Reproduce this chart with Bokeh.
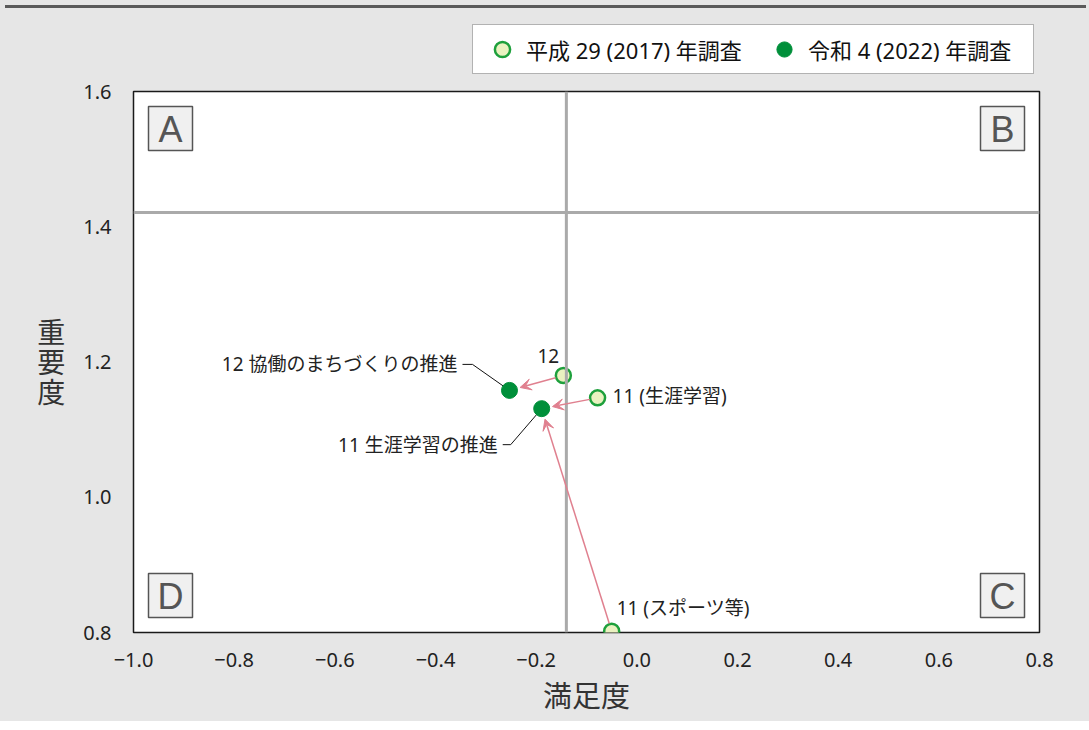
import math
from bokeh.plotting import figure
from bokeh.models import (Range1d, FixedTicker, Span, Label, Arrow, VeeHead,
                          Legend, LegendItem, Div)
from bokeh.layouts import column
from bokeh.embed import file_html
from bokeh.resources import INLINE
from bokeh.core.properties import value

# ---------------- data ----------------
labels_2017 = ["12", "11 (生涯学習)", "11 (スポーツ等)"]
sat_2017 = [-0.146, -0.078, -0.050]
imp_2017 = [1.180, 1.147, 0.802]

labels_2022 = ["12 協働のまちづくりの推進", "11 生涯学習の推進"]
sat_2022 = [-0.253, -0.189]
imp_2022 = [1.158, 1.131]

# arrows: index in 2017 -> index in 2022
moves_from = [0, 1, 2]
moves_to = [0, 1, 1]

avg_sat = -0.140
avg_imp = 1.421

x_ticks = [-1.0, -0.8, -0.6, -0.4, -0.2, 0.0, 0.2, 0.4, 0.6, 0.8]
y_ticks = [0.8, 1.0, 1.2, 1.4, 1.6]
quadrant_names = ["A", "B", "C", "D"]
legend_names = ["平成 29 (2017) 年調査", "令和 4 (2022) 年調査"]

# ---------------- layout ----------------
FONT = "Noto Sans, Noto Sans CJK JP"
W = 1081
LH = 62
H = 646
ML, MR, MT, MB = 133, 42, 16, 89
XMIN, XMAX, YMIN, YMAX = -1.0, 0.8, 0.8, 1.6
FW, FH = W - ML - MR, H - MT - MB
SX = FW / (XMAX - XMIN)
SY = FH / (YMAX - YMIN)

BG = "#e6e6e6"
PINK = "#e0808f"
OLD_FILL = "#eaf2c0"
OLD_LINE = "#1ea03c"
NEW_FILL = "#008f3a"

p = figure(width=W, height=H, x_range=Range1d(XMIN, XMAX), y_range=Range1d(YMIN, YMAX),
           output_backend="svg", toolbar_location=None,
           min_border_left=ML, min_border_right=MR, min_border_top=MT, min_border_bottom=MB)
p.background_fill_color = "white"
p.border_fill_color = BG
p.outline_line_color = "#1a1a1a"
p.outline_line_width = 1.5
p.xgrid.visible = False
p.ygrid.visible = False
p.title.visible = False

def minus(v):
    return f"{v:.1f}".replace("-", "\u2212")

for ax, ticks in ((p.xaxis, x_ticks), (p.yaxis, y_ticks)):
    ax.ticker = FixedTicker(ticks=ticks)
    ax.major_label_overrides = {t: minus(t) for t in ticks}
    ax.major_tick_line_color = None
    ax.minor_tick_line_color = None
    ax.axis_line_color = None
    ax.major_label_text_font = FONT
    ax.major_label_text_font_size = "20px"
    ax.major_label_text_color = "#222222"
p.xaxis.major_label_standoff = 14
p.yaxis.major_label_standoff = 16
p.xaxis.axis_label = "満足度"
p.xaxis.axis_label_text_font = FONT
p.xaxis.axis_label_text_font_size = "29px"
p.xaxis.axis_label_text_font_style = "normal"
p.xaxis.axis_label_text_color = "#333333"
p.xaxis.axis_label_standoff = 6

p.yaxis.axis_label = "重\n要\n度"
p.yaxis.axis_label_orientation = "horizontal"
p.yaxis.axis_label_text_font = FONT
p.yaxis.axis_label_text_font_size = "28px"
p.yaxis.axis_label_text_font_style = "normal"
p.yaxis.axis_label_text_color = "#333333"
p.yaxis.axis_label_text_line_height = 0.78
p.yaxis.axis_label_standoff = 15

# average lines
p.add_layout(Span(location=avg_sat, dimension="height", line_color="#aaaaaa", line_width=3))
p.add_layout(Span(location=avg_imp, dimension="width", line_color="#aaaaaa", line_width=3))

# quadrant boxes
q_off = 37 / SX, 37 / SY
q_x = [XMIN + q_off[0], XMAX - q_off[0], XMAX - q_off[0], XMIN + q_off[0]]
q_y = [YMAX - q_off[1], YMAX - q_off[1], YMIN + q_off[1], YMIN + q_off[1]]
p.rect(x=q_x, y=q_y, width=44, height=44, width_units="screen", height_units="screen",
       fill_color="#f0f0f0", line_color="#555555", line_width=1.5)
p.text(x=q_x, y=q_y, text=quadrant_names, text_font=value("Liberation Sans"),
       text_font_size="36px", text_color="#555555", text_align="center",
       text_baseline="middle", y_offset=1)

# arrows (shortened in pixel space)
def shorten(x0, y0, x1, y1, s0, s1):
    dx, dy = (x1 - x0) * SX, (y1 - y0) * SY
    L = math.hypot(dx, dy)
    ux, uy = dx / L, dy / L
    return (x0 + ux * s0 / SX, y0 + uy * s0 / SY,
            x1 - ux * s1 / SX, y1 - uy * s1 / SY)

for i, j in zip(moves_from, moves_to):
    xs, ys, xe, ye = shorten(sat_2017[i], imp_2017[i], sat_2022[j], imp_2022[j], 8, 11)
    p.add_layout(Arrow(x_start=xs, y_start=ys, x_end=xe, y_end=ye, line_color=PINK,
                       line_width=1.5,
                       end=VeeHead(size=11, fill_color=PINK, line_color=PINK, line_width=1)))

# leader lines for 2022 labels (pixel offsets from the point)
leader = [[(-37, 26), (-47, 26)], [(-31, -36), (-39, -36)]]
label_off_2022 = [(-52, 26), (-44, -36)]
for k in range(len(sat_2022)):
    xs = [sat_2022[k]] + [sat_2022[k] + dx / SX for dx, dy in leader[k]]
    ys = [imp_2022[k]] + [imp_2022[k] + dy / SY for dx, dy in leader[k]]
    p.line(xs, ys, line_color="#111111", line_width=1)
    p.add_layout(Label(x=sat_2022[k], y=imp_2022[k], x_offset=label_off_2022[k][0],
                       y_offset=label_off_2022[k][1], text=labels_2022[k], text_font=FONT,
                       text_font_size="19px", text_color="#222222", text_align="right",
                       text_baseline="middle"))

label_off_2017 = [(-15, 20, "center"), (15, 2, "left"), (5, 23, "left")]
for k in range(len(sat_2017)):
    dx, dy, al = label_off_2017[k]
    p.add_layout(Label(x=sat_2017[k], y=imp_2017[k], x_offset=dx, y_offset=dy,
                       text=labels_2017[k], text_font=FONT, text_font_size="19px",
                       text_color="#222222", text_align=al, text_baseline="middle"))

old_style = dict(size=15, fill_color=OLD_FILL, line_color=OLD_LINE, line_width=2.5)
new_style = dict(size=16, fill_color=NEW_FILL, line_color=NEW_FILL, line_width=1)
p.scatter(sat_2017, imp_2017, **old_style)
p.scatter(sat_2022, imp_2022, **new_style)

# ---------------- legend row (separate strip above the chart) ----------------
lg = figure(width=W, height=LH, x_range=Range1d(0, 1), y_range=Range1d(0, 1),
            output_backend="svg", toolbar_location=None, x_axis_type=None, y_axis_type=None,
            min_border_left=0, min_border_right=0, min_border_top=0, min_border_bottom=0)
lg.background_fill_color = BG
lg.border_fill_color = BG
lg.outline_line_color = None
lg.xgrid.visible = False
lg.ygrid.visible = False
lg.title.visible = False
# one-point renderers that only provide the legend glyphs (lie outside the strip's range)
k17 = lg.scatter(sat_2017[:1], imp_2017[:1], **old_style)
k22 = lg.scatter(sat_2022[:1], imp_2022[:1], **new_style)
legend = Legend(items=[LegendItem(label=legend_names[0], renderers=[k17]),
                       LegendItem(label=legend_names[1], renderers=[k22])],
                orientation="horizontal", location=(339, 1))
legend.label_text_font = FONT
legend.label_text_font_size = "22px"
legend.label_text_color = "#111111"
legend.label_height = 38
legend.label_width = 220
legend.glyph_height = 38
legend.glyph_width = 48
legend.label_standoff = 0
legend.spacing = 14
legend.padding = 5
legend.margin = 0
legend.border_line_color = "#666666"
legend.border_line_width = 1
legend.background_fill_color = "white"
legend.background_fill_alpha = 1
lg.add_layout(legend, "center")

bar = Div(width=W, height=3, styles={"background-color": "#5a5a5a"})
layout = column(bar, lg, p, spacing=0, styles={"background-color": BG})

open("out.html", "w").write(file_html(layout, INLINE))
